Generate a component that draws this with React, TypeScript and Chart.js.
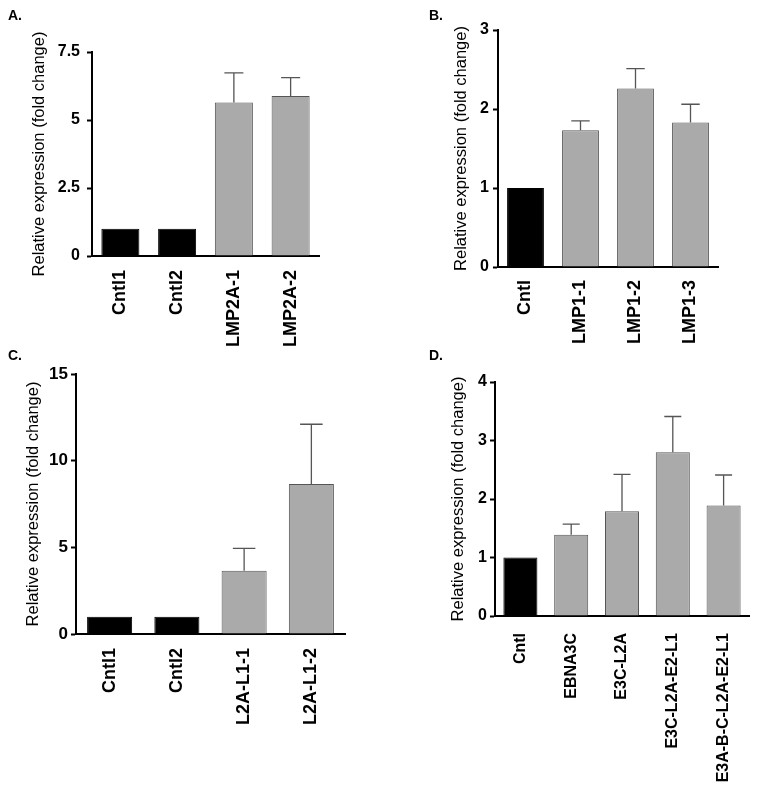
import React, { useEffect, useRef } from 'react';
import { Chart, registerables } from 'chart.js';

Chart.register(...registerables);

const FONT = "'Liberation Sans', Arial, Helvetica, sans-serif";
const Y_TITLE = 'Relative expression (fold change)';

// ---- Data ----
const catsA = ['Cntl1', 'Cntl2', 'LMP2A-1', 'LMP2A-2'];
const valsA = [1, 1, 5.64, 5.88];
const semA = [0, 0, 1.09, 0.68];
const groupA = ['ctrl', 'ctrl', 'test', 'test'];

const catsB = ['Cntl', 'LMP1-1', 'LMP1-2', 'LMP1-3'];
const valsB = [1, 1.73, 2.26, 1.83];
const semB = [0, 0.12, 0.25, 0.23];
const groupB = ['ctrl', 'test', 'test', 'test'];

const catsC = ['Cntl1', 'Cntl2', 'L2A-L1-1', 'L2A-L1-2'];
const valsC = [1, 1, 3.65, 8.65];
const semC = [0, 0, 1.29, 3.45];
const groupC = ['ctrl', 'ctrl', 'test', 'test'];

const catsD = ['Cntl', 'EBNA3C', 'E3C-L2A', 'E3C-L2A-E2-L1', 'E3A-B-C-L2A-E2-L1'];
const valsD = [1, 1.39, 1.79, 2.8, 1.89];
const semD = [0, 0.18, 0.63, 0.61, 0.52];
const groupD = ['ctrl', 'test', 'test', 'test', 'test'];

const yMaxA = 7.5, yStepA = 2.5;
const yMaxB = 3, yStepB = 1;
const yMaxC = 15, yStepC = 5;
const yMaxD = 4, yStepD = 1;

// ---- Error bar plugin (upper SEM only) ----
const errorBarPlugin = {
  id: 'upperErrorBars',
  afterDatasetsDraw(chart: any) {
    const ctx = chart.ctx;
    const ys = chart.scales.y;
    chart.data.datasets.forEach((ds: any, di: number) => {
      const meta = chart.getDatasetMeta(di);
      const errs: number[] = ds.errors || [];
      meta.data.forEach((bar: any, i: number) => {
        const e = errs[i];
        if (!e) return;
        const v = ds.data[i];
        const x = bar.x;
        const y0 = ys.getPixelForValue(v);
        const y1 = ys.getPixelForValue(v + e);
        const half = bar.width / 4;
        ctx.save();
        ctx.strokeStyle = '#555555';
        ctx.lineWidth = 1.3;
        ctx.beginPath();
        ctx.moveTo(x, y0);
        ctx.lineTo(x, y1);
        ctx.moveTo(x - half, y1);
        ctx.lineTo(x + half, y1);
        ctx.stroke();
        ctx.restore();
      });
    });
  },
};

type PanelCfg = {
  cats: string[];
  vals: number[];
  sem: number[];
  groups: string[];
  yMax: number;
  yStep: number;
  box: { x: number; y: number; w: number; h: number };
  area: { l: number; t: number; r: number; b: number };
  titleX: number;
  tickFont: number;
  catFont: number;
  tickPad: number;
  catPad: number;
};

const panels: PanelCfg[] = [
  {
    cats: catsA, vals: valsA, sem: semA, groups: groupA, yMax: yMaxA, yStep: yStepA,
    box: { x: 0, y: 0, w: 381, h: 393 },
    area: { l: 92, t: 52, r: 319, b: 256 },
    titleX: 39.5, tickFont: 16, catFont: 18, tickPad: 7, catPad: 6,
  },
  {
    cats: catsB, vals: valsB, sem: semB, groups: groupB, yMax: yMaxB, yStep: yStepB,
    box: { x: 381, y: 0, w: 381, h: 393 },
    area: { l: 498, t: 30, r: 718, b: 267 },
    titleX: 461.5, tickFont: 16, catFont: 18, tickPad: 4, catPad: 5,
  },
  {
    cats: catsC, vals: valsC, sem: semC, groups: groupC, yMax: yMaxC, yStep: yStepC,
    box: { x: 0, y: 360, w: 381, h: 426 },
    area: { l: 76, t: 374, r: 345, b: 634 },
    titleX: 33.3, tickFont: 17, catFont: 18, tickPad: 3, catPad: 6,
  },
  {
    cats: catsD, vals: valsD, sem: semD, groups: groupD, yMax: yMaxD, yStep: yStepD,
    box: { x: 381, y: 360, w: 381, h: 426 },
    area: { l: 495, t: 382, r: 749, b: 616 },
    titleX: 458.5, tickFont: 16, catFont: 16, tickPad: 3, catPad: 9,
  },
];

const letters = [
  { text: 'A.', x: 8, y: 8 },
  { text: 'B.', x: 429, y: 8 },
  { text: 'C.', x: 8, y: 348 },
  { text: 'D.', x: 429, y: 348 },
];

function Panel({ cfg }: { cfg: PanelCfg }) {
  const ref = useRef<HTMLCanvasElement>(null);
  const { x, y, w, h } = cfg.box;
  useEffect(() => {
    const { l, t, r, b } = cfg.area;
    const titleSize = 16.5;
    const titleLH = titleSize * 1.2;
    const chart = new Chart(ref.current as HTMLCanvasElement, {
      type: 'bar',
      data: {
        labels: cfg.cats,
        datasets: [
          {
            data: cfg.vals,
            errors: cfg.sem,
            backgroundColor: cfg.groups.map((g) => (g === 'ctrl' ? '#000000' : '#aaaaaa')),
            borderColor: cfg.groups.map((g) => (g === 'ctrl' ? '#000000' : '#555555')),
            borderWidth: 1,
            barPercentage: 0.67,
            categoryPercentage: 1,
          } as any,
        ],
      },
      options: {
        responsive: false,
        animation: false,
        devicePixelRatio: 1,
        events: [],
        layout: { padding: { left: 0, top: t - y, right: x + w - r, bottom: 0 } },
        plugins: { legend: { display: false }, tooltip: { enabled: false } },
        scales: {
          x: {
            grid: { display: false },
            border: { display: true, color: '#000000', width: 2 },
            ticks: {
              color: '#000000',
              font: { family: FONT, size: cfg.catFont, weight: 'bold' },
              minRotation: 90,
              maxRotation: 90,
              autoSkip: false,
              padding: cfg.catPad,
            },
            afterFit: (s: any) => {
              s.height = y + h - b;
            },
          },
          y: {
            min: 0,
            max: cfg.yMax,
            grid: {
              drawOnChartArea: false,
              drawTicks: true,
              tickLength: 5,
              tickWidth: 2,
              tickColor: '#000000',
            },
            border: { display: true, color: '#000000', width: 2 },
            ticks: {
              stepSize: cfg.yStep,
              color: '#000000',
              font: { family: FONT, size: cfg.tickFont, weight: 'bold' },
              padding: cfg.tickPad,
              callback: (v: any) => String(v),
            },
            title: {
              display: true,
              text: Y_TITLE,
              color: '#000000',
              font: { family: FONT, size: titleSize },
              padding: { top: cfg.titleX - x - titleLH / 2, bottom: 0 },
            },
            afterFit: (s: any) => {
              s.width = l - x;
            },
          },
        },
      } as any,
      plugins: [errorBarPlugin],
    });
    return () => chart.destroy();
  }, [cfg]);
  return (
    <canvas
      ref={ref}
      width={w}
      height={h}
      style={{ position: 'absolute', left: x, top: y, width: w, height: h }}
    />
  );
}

export default function App() {
  return (
    <div
      style={{
        position: 'absolute',
        left: 0,
        top: 0,
        width: 762,
        height: 786,
        background: '#ffffff',
        overflow: 'hidden',
      }}
    >
      {panels.map((p, i) => (
        <Panel key={i} cfg={p} />
      ))}
      {letters.map((L) => (
        <div
          key={L.text}
          style={{
            position: 'absolute',
            left: L.x,
            top: L.y,
            fontFamily: FONT,
            fontWeight: 'bold',
            fontSize: 14,
            lineHeight: '14px',
            color: '#000',
          }}
        >
          {L.text}
        </div>
      ))}
    </div>
  );
}
